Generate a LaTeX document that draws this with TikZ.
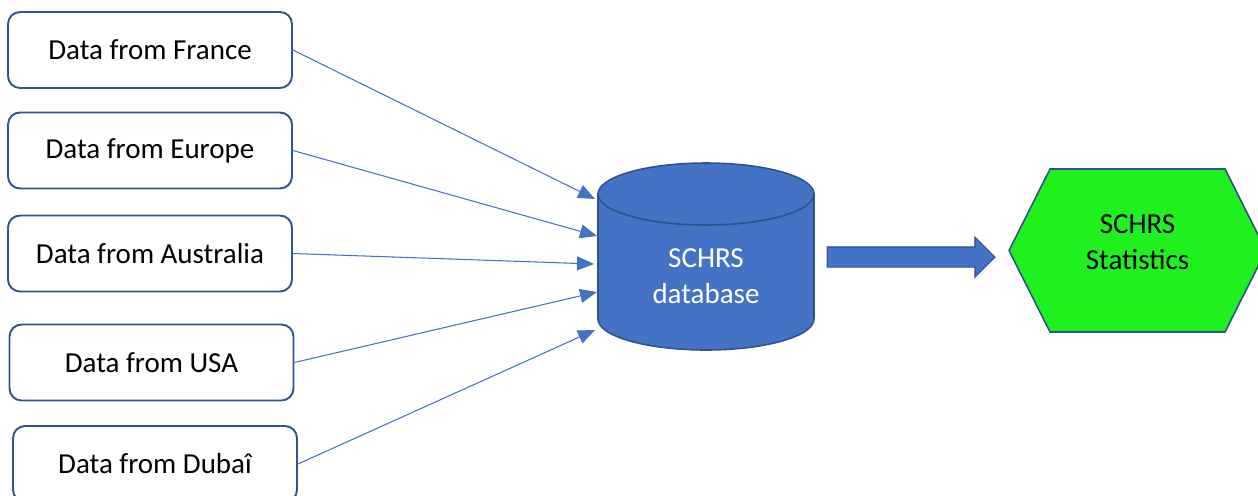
\documentclass[tikz,border=0pt]{standalone}
\usepackage{fontspec}
\setmainfont{Carlito}
\usetikzlibrary{arrows.meta}
\usetikzlibrary{shapes.symbols,shapes.arrows}
\definecolor{boxline}{HTML}{2F5597}
\definecolor{dbfill}{HTML}{4472C4}
\definecolor{dbline}{HTML}{2F528F}
\definecolor{statfill}{HTML}{20F01E}
\begin{document}
\begin{tikzpicture}
  [x=0.02cm,y=-0.02cm,
  every node/.style={font=\fontsize{16.5pt}{20.4pt}\selectfont},
  every label/.style={align=center},
  src/.style={rectangle,rounded corners=0.24cm,draw=boxline,line width=1.1pt,fill=white,minimum width=5.68cm,minimum height=1.52cm,inner sep=0pt},
  feed/.style={draw=dbfill,line width=0.6pt,-{Triangle[length=3.4mm,width=2.8mm]}},
  dbase/.style={rectangle,minimum width=4.32cm,minimum height=3.74cm,inner sep=0pt},
  dbedge/.style={draw=dbline,line width=0.9pt},
  stat/.style={signal,signal to=west and east,signal pointer angle=126.6,draw=dbline,line width=0.9pt,fill=statfill,minimum width=5.14cm,minimum height=3.26cm,inner sep=0pt},
  flowarrow/.style={single arrow,single arrow head extend=0.2cm,single arrow tip angle=90,draw=dbline,line width=0.6pt,fill=dbfill,minimum width=0.78cm,minimum height=3.36cm,inner xsep=0pt,inner ysep=0.19cm}]
  \useasboundingbox (0,0) rectangle (1258,495);
  \node[src] (fr) at (150,50) {Data from France};
  \node[src] (eu) at (150,150.5) {Data from Europe};
  \node[src] (au) at (150,253.5) {Data from Australia};
  \node[src] (us) at (151.5,362.5) {Data from USA};
  \node[src] (du) at (155,464) {Data from Dubaî};

  % database drum
  \draw[dbedge,fill=dbfill] (598,194) -- (598,319) arc[start angle=180,end angle=360,x radius=2.16cm,y radius=0.62cm]
    -- (814,194) arc[start angle=0,end angle=180,x radius=2.16cm,y radius=0.62cm] -- cycle;
  \draw[dbedge] (598,194) arc[start angle=180,end angle=360,x radius=2.16cm,y radius=0.62cm];
  \node[dbase,label={[text=white,yshift=-0.39cm]center:SCHRS\\database}] (db) at (706,256.5) {};

  \node[stat,label={[yshift=0.17cm]center:SCHRS\\Statistics}] (st) at (1137.5,250.5) {};
  \node[flowarrow] (flow) at (906,257) {};

  % arrow ends on the left side of the drum
  \coordinate (in1) at (595,199);
  \coordinate (in2) at (597,236);
  \coordinate (in3) at (594,264);
  \coordinate (in4) at (597,292);
  \coordinate (in5) at (595,330);

  \draw[feed] (fr.east) -- (in1);
  \draw[feed] (eu.east) -- (in2);
  \draw[feed] (au.east) -- (in3);
  \draw[feed] (us.east) -- (in4);
  \draw[feed] (du.east) -- (in5);
\end{tikzpicture}
\end{document}
